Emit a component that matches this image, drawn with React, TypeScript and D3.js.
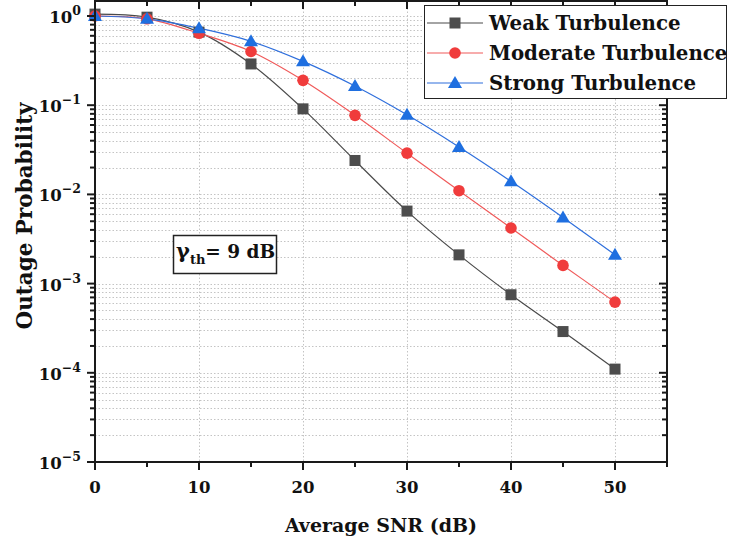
import React from "react";
import * as d3 from "d3";

const snr = [0, 5, 10, 15, 20, 25, 30, 35, 40, 45, 50];
const weak = [1.05, 0.97, 0.66, 0.29, 0.091, 0.024, 0.0065, 0.0021, 0.00075, 0.00029, 0.00011];
const moderate = [1.0, 0.93, 0.64, 0.4, 0.19, 0.077, 0.029, 0.011, 0.0042, 0.0016, 0.00062];
const strong = [1.0, 0.93, 0.73, 0.52, 0.31, 0.164, 0.078, 0.034, 0.014, 0.0055, 0.0021];
const seriesNames = ["Weak Turbulence", "Moderate Turbulence", "Strong Turbulence"];
const xTicks = [0, 10, 20, 30, 40, 50];
const xMinor = [5, 15, 25, 35, 45, 55];
const yExps = [0, -1, -2, -3, -4, -5];

const W = 732, H = 541;
const L = 95, R = 667, T = 1, B = 462;
const FONT = "'DejaVu Serif', serif";

export default function App() {
  const x = d3.scaleLinear().domain([0, 55]).range([L, R]);
  const y = d3.scaleLog().domain([1e-5, 1]).range([B, 16]);

  const minorVals: number[] = [];
  for (let e = -5; e <= 0; e++) {
    for (let m = 2; m <= 9; m++) {
      const v = m * Math.pow(10, e);
      if (y(v) > T) minorVals.push(v);
    }
  }
  const majorVals = yExps.map((e) => Math.pow(10, e));

  const series = [
    { name: seriesNames[0], data: weak, line: "#4a4a4a", fill: "#4d4d4d", shape: "square" },
    { name: seriesNames[1], data: moderate, line: "#f05a5a", fill: "#f03c3c", shape: "circle" },
    { name: seriesNames[2], data: strong, line: "#2f6fdc", fill: "#1f6fe0", shape: "triangle" },
  ];

  const line = d3
    .line<number>()
    .x((_, i) => x(snr[i]))
    .y((d) => y(d))
    .curve(d3.curveCatmullRom.alpha(0.5));

  const marker = (shape: string, cx: number, cy: number, fill: string, key: string) => {
    if (shape === "square") return <rect key={key} x={cx - 5.5} y={cy - 5.5} width={11} height={11} fill={fill} />;
    if (shape === "circle") return <circle key={key} cx={cx} cy={cy} r={5.8} fill={fill} />;
    return <path key={key} d={`M${cx},${cy - 7} L${cx + 7},${cy + 5} L${cx - 7},${cy + 5} Z`} fill={fill} />;
  };

  const axisColor = "#1a1a1a";

  return (
    <svg width={W} height={H} style={{ position: "absolute", left: 0, top: 0 }}>
      <rect x={0} y={0} width={W} height={H} fill="#fff" />
      <defs>
        <clipPath id="plot">
          <rect x={L} y={T} width={R - L} height={B - T} />
        </clipPath>
      </defs>
      {/* grid */}
      <g stroke="#c4c4c4" strokeWidth={1} strokeDasharray="1.5,2">
        {[...majorVals, ...minorVals].map((v, i) => (
          <line key={"gy" + i} x1={L} x2={R} y1={Math.round(y(v)) + 0.5} y2={Math.round(y(v)) + 0.5} />
        ))}
        {xTicks.slice(1).map((v) => (
          <line key={"gx" + v} x1={Math.round(x(v)) + 0.5} x2={Math.round(x(v)) + 0.5} y1={T} y2={B} />
        ))}
      </g>
      {/* series */}
      <g clipPath="url(#plot)">
        {series.map((s) => (
          <path key={s.name} d={line(s.data) || ""} fill="none" stroke={s.line} strokeWidth={1.2} />
        ))}
      </g>
      {series.map((s) => (
        <g key={s.name + "m"}>{s.data.map((d, i) => marker(s.shape, x(snr[i]), y(d), s.fill, s.name + i))}</g>
      ))}
      {/* frame */}
      <rect x={L} y={T} width={R - L} height={B - T} fill="none" stroke={axisColor} strokeWidth={2} />
      {/* ticks */}
      <g stroke={axisColor} strokeWidth={2}>
        {majorVals.map((v, i) => (
          <g key={"my" + i}>
            <line x1={L - 8} x2={L} y1={y(v)} y2={y(v)} />
            <line x1={R} x2={R - 8} y1={y(v)} y2={y(v)} />
          </g>
        ))}
        {minorVals.map((v, i) => (
          <g key={"ny" + i}>
            <line x1={L - 5} x2={L} y1={y(v)} y2={y(v)} />
            <line x1={R} x2={R - 5} y1={y(v)} y2={y(v)} />
          </g>
        ))}
        {xTicks.map((v) => (
          <g key={"mx" + v}>
            <line x1={x(v)} x2={x(v)} y1={B} y2={B + 8} />
            <line x1={x(v)} x2={x(v)} y1={T} y2={T + 8} />
          </g>
        ))}
        {xMinor.map((v) => (
          <g key={"nx" + v}>
            <line x1={x(v)} x2={x(v)} y1={B} y2={B + 5} />
            <line x1={x(v)} x2={x(v)} y1={T} y2={T + 5} />
          </g>
        ))}
      </g>
      {/* tick labels */}
      <g fontFamily={FONT} fontWeight="bold" fill="#111">
        {xTicks.map((v) => (
          <text key={"xl" + v} x={x(v)} y={493} textAnchor="middle" fontSize={16.5}>
            {v}
          </text>
        ))}
        {yExps.map((e) => (
          <text key={"yl" + e} x={81} y={y(Math.pow(10, e)) + 7} textAnchor="end" fontSize={16.5}>
            10
            <tspan dy={-8} fontSize={12.5}>
              {e === 0 ? "0" : "\u2212" + Math.abs(e)}
            </tspan>
          </text>
        ))}
        <text x={(L + R) / 2} y={532} textAnchor="middle" fontSize={19}>
          Average SNR (dB)
        </text>
        <text transform={`translate(32,${216}) rotate(-90)`} textAnchor="middle" fontSize={21.5}>
          Outage Probability
        </text>
      </g>
      {/* legend */}
      <rect x={424.5} y={5.5} width={302} height={93} fill="#fff" stroke="#222" strokeWidth={1} />
      {series.map((s, i) => {
        const cy = 23 + i * 30;
        return (
          <g key={s.name + "lg"}>
            <line x1={427} x2={483} y1={cy} y2={cy} stroke={s.line} strokeWidth={1.2} />
            {marker(s.shape, 455, cy, s.fill, s.name + "lgm")}
            <text x={489} y={cy + 7} fontFamily={FONT} fontWeight="bold" fontSize={19.8} fill="#111">
              {s.name}
            </text>
          </g>
        );
      })}
      {/* annotation */}
      <rect x={173.5} y={235.5} width={103} height={38} fill="#fff" stroke="#222" strokeWidth={1.5} />
      <text x={176} y={258} fontFamily={FONT} fontWeight="bold" fontSize={18.5} fill="#111">
        <tspan fontSize={21}>γ</tspan>
        <tspan dy={6} fontSize={13}>th</tspan>
        <tspan dy={-6}>= 9 dB</tspan>
      </text>
    </svg>
  );
}
